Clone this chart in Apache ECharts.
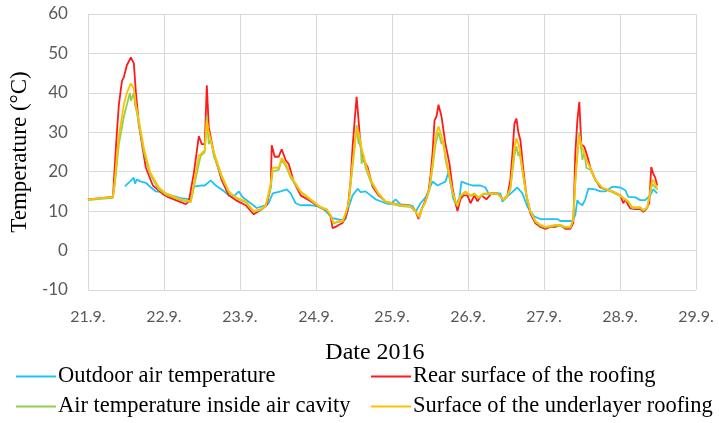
<!DOCTYPE html>
<html>
<head>
<meta charset="utf-8">
<script src="https://cdn.jsdelivr.net/npm/echarts@6/dist/echarts.min.js"></script>
<style>
  html, body { margin: 0; padding: 0; background: #fff; }
  #main { width: 719px; height: 423px; }
</style>
</head>
<body>
<div id="main"></div>
<script>
// days after 21.9. 00:00 -> temperature (degC)
var tickLabels = ['21.9.', '22.9.', '23.9.', '24.9.', '25.9.', '26.9.', '27.9.', '28.9.', '29.9.'];

var outdoor = [[0.486,16.3],[0.552,17.5],[0.604,18.5],[0.618,17],[0.644,18],[0.696,17.5],[0.762,17.2],[0.828,16],[0.894,15],[0.986,14.8],[1.091,14],[1.222,13.3],[1.353,13],[1.393,16.2],[1.485,16.5],[1.537,16.5],[1.616,17.8],[1.682,16.5],[1.774,15.3],[1.853,14],[1.905,13.5],[1.984,15],[2.037,13.5],[2.142,12],[2.221,10.8],[2.339,11.5],[2.378,12],[2.431,14.5],[2.536,15],[2.615,15.5],[2.668,14.5],[2.707,13],[2.733,12],[2.799,11.5],[2.93,11.5],[3.062,11.1],[3.127,10],[3.219,8.2],[3.325,7.8],[3.39,8],[3.43,11],[3.482,14],[3.548,15.7],[3.587,14.8],[3.653,15],[3.719,14],[3.784,13],[3.85,12.5],[3.916,12],[3.982,11.8],[4.047,13],[4.113,11.7],[4.244,11.5],[4.271,11.3],[4.31,9.8],[4.336,9.5],[4.376,12],[4.442,13.5],[4.534,17.5],[4.599,16.5],[4.652,17],[4.704,17.5],[4.744,20],[4.77,17],[4.809,13],[4.849,11.8],[4.888,13.5],[4.915,17.5],[4.98,17],[5.059,16.5],[5.164,16.5],[5.23,16],[5.269,14.5],[5.361,14.5],[5.427,14.5],[5.453,12.4],[5.506,13.5],[5.585,14.9],[5.65,16],[5.716,14.5],[5.782,11.1],[5.874,8.6],[5.953,8],[6.176,8],[6.216,7.5],[6.373,7.5],[6.412,9],[6.439,12.8],[6.465,12],[6.505,11.5],[6.544,13],[6.583,15.7],[6.675,15.5],[6.741,15],[6.807,15],[6.899,16.2],[7.004,16],[7.07,15.3],[7.109,13.6],[7.201,13.5],[7.267,12.8],[7.333,12.8],[7.398,14],[7.438,15.5],[7.49,14.5]];

var rearSurface = [[0,13],[0.17,13.3],[0.329,13.6],[0.355,22],[0.381,30],[0.407,37],[0.447,43],[0.473,44],[0.512,47],[0.565,49],[0.604,47.5],[0.631,40],[0.67,32],[0.719,26],[0.762,21],[0.854,16.5],[0.986,14.3],[1.064,13.5],[1.222,12.3],[1.288,11.8],[1.327,12.5],[1.393,19.6],[1.459,29],[1.498,27],[1.537,27],[1.564,41.9],[1.59,31.3],[1.656,24.7],[1.761,17.8],[1.853,14],[1.945,12.8],[2.076,11.5],[2.181,9.2],[2.273,10.3],[2.352,11.5],[2.405,16.2],[2.418,26.7],[2.457,23.8],[2.51,23.8],[2.549,25.7],[2.602,22.9],[2.641,22],[2.707,17.5],[2.799,14],[2.93,12.5],[3.062,10.8],[3.141,10.3],[3.193,8.6],[3.219,5.7],[3.259,6],[3.298,6.5],[3.351,7],[3.39,8.5],[3.417,10.3],[3.456,17.8],[3.482,26.3],[3.509,33],[3.535,39],[3.561,33],[3.587,26.3],[3.627,22.9],[3.679,21.2],[3.745,16.2],[3.824,14],[3.916,12.4],[4.008,12],[4.113,11.5],[4.244,11.3],[4.31,10],[4.35,8],[4.363,7.5],[4.389,10.5],[4.442,12.8],[4.481,15],[4.507,19],[4.534,24.7],[4.56,33],[4.586,34],[4.612,37],[4.652,34],[4.704,27],[4.757,22],[4.796,16],[4.836,12],[4.862,10],[4.901,13],[4.941,14],[4.993,14],[5.033,12],[5.085,14],[5.125,12.5],[5.177,14],[5.243,13],[5.309,14.5],[5.388,14.5],[5.466,13],[5.519,14],[5.558,18],[5.585,24.6],[5.611,32.2],[5.637,33.5],[5.663,30],[5.69,28],[5.729,20.4],[5.769,14],[5.821,9.4],[5.887,6.9],[5.953,6],[6.018,5.5],[6.084,6],[6.15,6],[6.216,6.5],[6.281,5.5],[6.347,5.5],[6.386,7],[6.412,24.6],[6.439,33],[6.465,37.7],[6.491,27],[6.531,26.3],[6.57,24],[6.61,21],[6.675,18],[6.741,16],[6.807,15.5],[6.899,15],[7.004,14],[7.043,12],[7.07,13],[7.109,11.5],[7.135,10.7],[7.201,10.5],[7.267,10.5],[7.306,9.8],[7.346,10.5],[7.385,12],[7.411,21.2],[7.438,19.5],[7.464,18.5],[7.49,16.5]];

var cavityAir = [[0,12.8],[0.17,13.1],[0.329,13.4],[0.355,17],[0.381,22],[0.407,27],[0.473,34],[0.512,37],[0.552,40],[0.565,38],[0.604,40],[0.618,37],[0.644,35],[0.67,32],[0.736,25],[0.815,19.5],[0.933,15.5],[1.025,14.2],[1.222,12.8],[1.353,12.3],[1.393,16],[1.459,22],[1.485,24],[1.537,25],[1.564,34],[1.59,27],[1.616,28],[1.656,24],[1.761,18.5],[1.853,14.8],[1.945,13.3],[2.076,12.3],[2.181,9.8],[2.273,10.3],[2.339,11.3],[2.405,16],[2.431,20],[2.51,20.5],[2.549,23],[2.602,21.5],[2.668,18.5],[2.799,14.8],[2.93,12.8],[3.062,10.8],[3.141,10.3],[3.193,8.8],[3.233,6.8],[3.298,7.3],[3.351,7.3],[3.39,9.3],[3.43,11.8],[3.469,19],[3.509,26],[3.535,31.8],[3.561,27],[3.587,28],[3.6,22],[3.627,24],[3.653,21],[3.719,17.5],[3.824,14.3],[3.916,12.3],[4.008,11.8],[4.113,11.3],[4.244,11.1],[4.31,9.8],[4.363,8.3],[4.389,10.3],[4.442,12.3],[4.494,15.5],[4.534,21],[4.573,27],[4.612,30],[4.652,27],[4.678,28],[4.704,23],[4.757,18.5],[4.796,14.8],[4.836,12.3],[4.862,11.3],[4.901,13.8],[4.967,14.8],[5.033,13.8],[5.085,14.3],[5.138,13.3],[5.204,14.3],[5.296,14.3],[5.388,14.3],[5.466,12.8],[5.519,13.8],[5.558,15.5],[5.585,20],[5.611,24],[5.637,26.5],[5.663,24],[5.677,25],[5.729,18.5],[5.769,13.8],[5.821,9.8],[5.887,7.3],[5.953,6.3],[6.018,5.8],[6.15,6.3],[6.216,6.3],[6.281,5.8],[6.347,5.8],[6.386,7.8],[6.412,17],[6.439,24],[6.465,30],[6.505,23],[6.531,25],[6.557,21],[6.61,20.5],[6.675,17.8],[6.767,15.8],[6.899,14.8],[7.004,13.8],[7.109,12.3],[7.162,10.8],[7.267,10.8],[7.306,10.1],[7.359,10.8],[7.398,14.5],[7.424,17],[7.464,16],[7.49,15.5]];

var underlayer = [[0,13],[0.17,13.3],[0.329,13.6],[0.355,18],[0.381,24],[0.407,29],[0.473,37],[0.512,40],[0.565,42.4],[0.604,41],[0.631,37],[0.67,33],[0.736,26],[0.815,20],[0.933,16],[1.025,14.5],[1.222,13],[1.353,12.5],[1.393,17],[1.459,24],[1.537,25.5],[1.564,33],[1.59,30],[1.656,25],[1.761,19],[1.853,15],[1.945,13.5],[2.076,12.5],[2.181,10],[2.273,10.5],[2.339,11.5],[2.405,17],[2.431,21],[2.51,21],[2.549,23.5],[2.602,22],[2.668,19],[2.799,15],[2.93,13],[3.062,11],[3.141,10.5],[3.193,9],[3.233,7],[3.298,7.5],[3.351,7.5],[3.39,9.5],[3.43,12],[3.469,20],[3.509,27],[3.535,31],[3.561,30],[3.6,26],[3.653,22],[3.719,18],[3.824,14.5],[3.916,12.5],[4.008,12],[4.113,11.5],[4.244,11.3],[4.31,10],[4.363,8.5],[4.389,10.5],[4.442,12.5],[4.494,16],[4.534,22],[4.573,29],[4.612,31.5],[4.652,29],[4.704,24],[4.757,19],[4.796,15],[4.836,12.5],[4.862,11.5],[4.901,14],[4.967,15],[5.033,14],[5.085,14.5],[5.138,13.5],[5.204,14.5],[5.296,14.5],[5.388,14.5],[5.466,13],[5.519,14],[5.558,16],[5.585,21],[5.611,26],[5.637,28.5],[5.677,26],[5.729,19],[5.769,14],[5.821,10],[5.887,7.5],[5.953,6.5],[6.018,6],[6.15,6.5],[6.216,6.5],[6.281,6],[6.347,6],[6.386,8],[6.412,18],[6.439,25],[6.465,29],[6.505,26],[6.557,23],[6.61,21],[6.675,18],[6.767,16],[6.899,15],[7.004,14],[7.109,12.5],[7.162,11],[7.267,11],[7.306,10.3],[7.359,11],[7.398,15],[7.424,18],[7.464,17],[7.49,15.5]];

var seriesNames = ['Outdoor air temperature', 'Rear surface of the roofing', 'Air temperature inside air cavity', 'Surface of the underlayer roofing'];
var seriesColors = ['#1ec4f2', '#ff1a1a', '#92d050', '#ffc000'];
var seriesData = [outdoor, rearSurface, cavityAir, underlayer];

var serif = '"Liberation Serif", "Times New Roman", serif';
var gridColor = '#d9d9d9';

var myChart = echarts.init(document.getElementById('main'));

var series = seriesData.map(function (d, i) {
  return {
    name: seriesNames[i],
    type: 'line',
    data: d,
    symbol: 'none',
    smooth: false,
    color: seriesColors[i],
    lineStyle: { width: 1.8, color: seriesColors[i] },
    animation: false
  };
});

// one legend per entry so the 2x2 arrangement is fixed
var legendSpots = [[11, 360], [366, 360], [11, 390], [366, 390]];
var legends = seriesNames.map(function (n, i) {
  return {
    left: legendSpots[i][0], top: legendSpots[i][1],
    icon: 'rect',
    itemWidth: 40, itemHeight: 2,
    textStyle: { fontFamily: serif, fontSize: 22.5, color: '#000', padding: [0, 0, 0, -3] },
    data: [n],
    selectedMode: false
  };
});

option = {
  backgroundColor: '#fff',
  grid: { left: 87, right: 23, top: 14, bottom: 133 },
  xAxis: {
    type: 'value',
    min: 0, max: 8, interval: 1,
    name: 'Date 2016',
    nameLocation: 'middle',
    nameGap: 51,
    nameTextStyle: { fontFamily: serif, fontSize: 24, color: '#000', padding: [0, 34, 0, 0] },
    axisLine: { show: true, lineStyle: { color: gridColor } },
    axisTick: { show: false },
    axisLabel: {
      margin: 19,
      fontFamily: 'Lato', fontSize: 16, color: '#595959',
      formatter: function (v) { return tickLabels[Math.round(v)]; }
    },
    splitLine: { show: true, lineStyle: { color: gridColor, width: 1 } }
  },
  yAxis: {
    type: 'value',
    min: -10, max: 60, interval: 10,
    name: 'Temperature (°C)',
    nameLocation: 'middle',
    nameGap: 46,
    nameTextStyle: { fontFamily: serif, fontSize: 23, color: '#000' },
    axisLine: { show: false },
    axisTick: { show: false },
    axisLabel: { margin: 20, fontFamily: 'Lato', fontSize: 17, color: '#595959' },
    splitLine: { show: true, lineStyle: { color: gridColor, width: 1 } }
  },
  legend: legends,
  series: series
};
myChart.setOption(option);
</script>
</body>
</html>
